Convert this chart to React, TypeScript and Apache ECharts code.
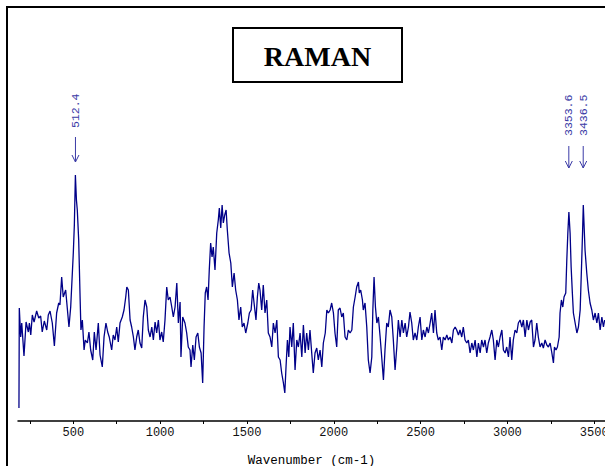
import React, { useEffect, useRef } from "react";
import * as echarts from "echarts";

const wavenumbers: number[] = [
  187,189,197,203,216,228,241,247,255,264,274,289,301,312,321,333,347,356,366,379,
  391,404,416,423,433,442,456,475,485,500,506,512,518,523,531,539,544,552,562,569,
  581,590,600,612,621,631,644,654,667,677,688,698,707,721,730,740,750,759,769,782,
  792,802,808,817,827,836,846,855,865,874,884,894,903,913,923,932,942,952,961,971,
  980,990,999,1009,1018,1028,1038,1047,1057,1067,1076,1086,1096,1105,
  1115,1120,1130,1143,1153,1162,1172,1178,1188,1197,1207,1217,1226,1236,1245,1253,1260,1268,1276,1283,
  1291,1299,1306,1316,1326,1335,1341,1349,1357,1364,1372,1380,1387,1397,1407,1416,1426,1435,1445,1454,
  1464,1473,1483,1493,1505,1514,1524,1533,1541,1552,1560,1568,1575,1585,1594,1604,1614,1623,1633,1643,
  1652,1662,1672,1681,1691,1700,1710,1718,1725,1733,1741,1748,1758,1767,1777,1787,1796,1806,1816,1825,
  1835,1844,1854,1863,1873,1882,1892,1902,1911,1921,1931,1940,1951,1960,1969,1979,1988,1998,2007,2017,
  2026,2036,2046,2055,2065,2075,2084,2094,2104,2113,2123,2132,2142,2147,2155,2165,2170,2180,2190,2199,
  2209,2219,2225,2232,2240,2248,2257,2267,
  2276,2286,2295,2305,2314,2324,2334,2343,2353,2363,2372,2382,2392,2401,2411,2420,2430,2439,2449,2458,
  2468,2478,2487,2497,2507,2516,2526,2536,2545,2555,2564,2574,2583,2593,2602,2612,2622,2631,2641,2651,
  2660,2670,2680,2689,2699,2708,2718,2727,2737,2746,2756,2766,2775,2785,2795,2804,2814,2824,2833,2843,
  2852,2862,2871,2881,2890,2900,2910,2919,2929,2939,2948,2958,2968,2977,2987,2996,3006,3015,3025,3034,
  3044,3054,3063,3073,3083,3092,3102,3112,3121,3131,3140,3150,3159,3169,3178,3188,3198,3207,3217,3227,
  3236,
  3246,3256,3265,3271,3280,3288,3298,3303,3311,3319,3326,3336,3342,3348,3354,3361,3367,3374,3380,3390,
  3400,3409,3419,3428,3433,3437,3447,3457,3466,3476,3486,3495,3505,3515,3524,3534,3544,3553,3560,
];

const intensity: number[] = [
  13,113,84,98,65,99,89,98,86,106,99,110,103,105,89,100,91,106,110,98,
  75,108,118,116,144,124,131,94,114,168,196,246,221,211,181,124,91,101,71,81,
  78,89,71,61,89,71,98,66,54,84,98,89,84,71,86,81,94,79,98,104,
  111,124,134,131,101,94,84,71,84,91,78,73,104,121,114,91,84,94,81,99,
  88,101,81,89,79,101,134,121,124,114,104,114,138,98,
  119,64,104,98,88,74,71,54,76,61,84,88,74,68,38,94,128,134,121,151,
  178,164,174,151,188,201,213,193,216,198,206,211,191,168,158,134,148,131,121,101,
  114,94,98,88,98,108,111,131,118,101,124,138,131,111,136,108,121,88,84,74,
  98,88,101,64,61,48,38,28,54,81,64,94,74,98,51,81,74,88,64,96,
  68,88,71,91,68,48,68,73,61,71,54,78,88,111,108,111,118,108,88,74,
  111,113,104,108,84,81,91,88,91,114,124,134,139,128,131,121,111,118,94,61,
  48,64,111,144,114,98,104,84,
  64,41,71,98,94,111,104,81,51,74,101,84,101,88,98,84,94,109,98,81,
  88,81,94,104,81,91,84,94,88,98,108,88,111,88,81,84,71,84,81,86,
  81,84,78,91,94,91,86,91,84,94,81,78,81,68,78,71,81,64,78,68,
  81,74,81,68,78,84,91,81,61,81,74,84,91,71,68,74,64,84,61,81,
  91,88,98,101,94,101,84,101,91,99,101,74,81,98,84,74,78,73,81,76,
  74,
  78,68,58,74,71,74,84,108,121,114,124,128,161,188,209,188,154,128,108,98,
  88,94,111,161,190,216,171,148,131,118,111,101,108,98,108,91,104,94,101,
];

const peakPositions: number[] = [512.4, 3353.6, 3436.5];
const peakLabels: string[] = ["512.4", "3353.6", "3436.5"];
const minorTickValues: number[] = [250, 500, 750, 1000, 1250, 1500, 1750, 2000, 2250, 2500, 2750, 3000, 3250, 3500];
const labelTickValues: number[] = [500, 1000, 1500, 2000, 2500, 3000, 3500];
const chartTitle = "RAMAN";
const xAxisTitle = "Wavenumber (cm-1)";

const MONO = '"Liberation Mono", "DejaVu Sans Mono", monospace';
const ANNOT_COLOR = "#3a3aa6";

export default function App() {
  const ref = useRef<HTMLDivElement>(null);
  useEffect(() => {
    if (!ref.current) return;
    const chart = echarts.init(ref.current, null, { renderer: "svg" });
    const data = wavenumbers.map((w, i) => [w, intensity[i]]);
    chart.setOption({
      animation: false,
      backgroundColor: "#ffffff",
      grid: {
        left: 18,
        right: 0,
        top: 21,
        bottom: 45,
        containLabel: false,
        outerBoundsMode: "none",
      },
      xAxis: {
        type: "value",
        min: 181.5,
        max: 3562,
        name: xAxisTitle,
        nameLocation: "middle",
        nameGap: 33,
        nameTextStyle: { fontFamily: MONO, fontSize: 12.5, color: "#000" },
        axisLine: { show: true, onZero: false, lineStyle: { color: "#000", width: 1.5 } },
        axisTick: { show: true, customValues: minorTickValues, length: 3, lineStyle: { color: "#000", width: 1 } },
        axisLabel: {
          customValues: labelTickValues,
          fontFamily: MONO,
          fontSize: 12,
          color: "#111",
          margin: 6,
          hideOverlap: false,
          formatter: (v: number) => String(v),
        },
        splitLine: { show: false },
      },
      yAxis: {
        type: "value",
        min: 0,
        max: 400,
        show: false,
      },
      series: [
        {
          type: "line",
          data,
          showSymbol: false,
          symbol: "none",
          clip: true,
          lineStyle: { color: "#000088", width: 1.3 },
        },
      ],
    });

    const elements: any[] = [
      {
        type: "rect",
        shape: { x: 7, y: 7, width: 800, height: 600 },
        style: { fill: "none", stroke: "#000", lineWidth: 2 },
        silent: true,
      },
      {
        type: "rect",
        shape: { x: 233, y: 28, width: 169, height: 54 },
        style: { fill: "#fff", stroke: "#000", lineWidth: 2 },
        silent: true,
      },
      {
        type: "text",
        x: 317.5,
        y: 56,
        style: {
          text: chartTitle,
          font: 'bold 28px "Liberation Serif", "Times New Roman", serif',
          fill: "#000",
          align: "center",
          verticalAlign: "middle",
        },
      },
    ];

    const labelBottom = [128, 136, 136];
    const arrowTop = [137, 146, 146];
    const arrowBottom = [162, 168, 168];
    peakPositions.forEach((p, i) => {
      const px = (chart.convertToPixel({ gridIndex: 0 }, [p, 0]) as number[])[0];
      elements.push({
        type: "text",
        x: px,
        y: labelBottom[i],
        rotation: Math.PI / 2,
        style: {
          text: peakLabels[i],
          font: `11.5px ${MONO}`,
          fill: ANNOT_COLOR,
          align: "left",
          verticalAlign: "middle",
        },
      });
      elements.push({
        type: "line",
        shape: { x1: px, y1: arrowTop[i], x2: px, y2: arrowBottom[i] },
        style: { stroke: ANNOT_COLOR, lineWidth: 1 },
      });
      elements.push({
        type: "polyline",
        shape: {
          points: [
            [px - 3.5, arrowBottom[i] - 7],
            [px, arrowBottom[i]],
            [px + 3.5, arrowBottom[i] - 7],
          ],
        },
        style: { stroke: ANNOT_COLOR, fill: "none", lineWidth: 1 },
      });
    });

    chart.setOption({ graphic: { elements } });
    return () => chart.dispose();
  }, []);
  return (
    <div
      ref={ref}
      style={{ position: "fixed", left: 0, top: 0, width: 605, height: 466 }}
    />
  );
}
